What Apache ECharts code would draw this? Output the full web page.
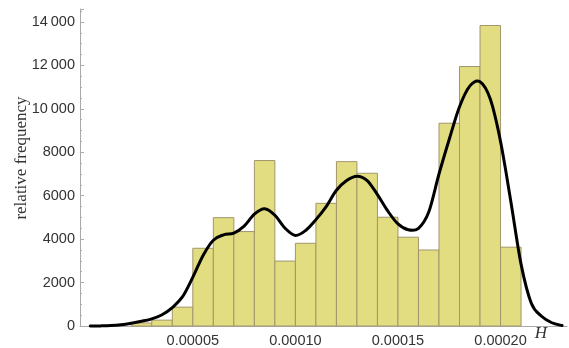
<!DOCTYPE html>
<html>
<head>
<meta charset="utf-8">
<script src="https://cdn.jsdelivr.net/npm/echarts@6/dist/echarts.min.js"></script>
<style>
  html, body { margin: 0; padding: 0; background: #fff; }
  #chart { width: 569px; height: 348px; }
</style>
</head>
<body>
<div id="chart"></div>
<script>
// Histogram bins: left edge of each bin (H) and its relative frequency
const binLeft = [0.00002, 0.00003, 0.00004, 0.00005, 0.00006, 0.00007, 0.00008,
  0.00009, 0.00010, 0.00011, 0.00012, 0.00013, 0.00014, 0.00015, 0.00016,
  0.00017, 0.00018, 0.00019, 0.00020];
const binWidth = 0.00001;
const binFreq = [140, 270, 870, 3580, 4990, 4350, 7620, 2990, 3810, 5650, 7570,
  7035, 5010, 4090, 3500, 9340, 11950, 13840, 3630];

// Smoothed density curve, sampled along H
const curveH = [0, 0.000005, 0.00001, 0.000015, 0.00002, 0.000025, 0.00003, 0.000035,
  0.00004, 0.000045, 0.00005, 0.000055, 0.00006, 0.000065, 0.00007, 0.000075,
  0.00008, 0.000085, 0.00009, 0.000095, 0.00010, 0.000105, 0.00011, 0.000115,
  0.00012, 0.000125, 0.00013, 0.000135, 0.00014, 0.000145, 0.00015, 0.000155,
  0.00016, 0.000165, 0.00017, 0.000175, 0.00018, 0.000185, 0.00019,
  0.000195, 0.00020, 0.000205, 0.00021, 0.000215, 0.00022, 0.000225, 0.00023];
const curveFreq = [0, 5, 20, 60, 130, 220, 330, 520, 850, 1350, 2250, 3250, 3950,
  4200, 4280, 4600, 5150, 5400, 5100, 4500, 4170, 4400, 4900, 5500, 6250, 6700,
  6900, 6700, 6050, 5300, 4700, 4430, 4500, 5250, 7000, 8600, 10100, 11050, 11250,
  10450, 8500, 5750, 2850, 1050, 450, 150, 20];

// Axis ticks
const xTickLabels = [0.00005, 0.00010, 0.00015, 0.00020];
const yTickLabels = [0, 2000, 4000, 6000, 8000, 10000, 12000, 14000];

const bars = binLeft.map((l, i) => [l, l + binWidth, binFreq[i]]);
const curve = curveH.map((h, i) => [h, curveFreq[i]]);

const labelFont = 'Liberation Sans, Arial, sans-serif';
const serifFont = 'Liberation Serif, Times New Roman, serif';

function groupDigits(v) {
  const s = String(v);
  return s.length > 4 ? s.slice(0, s.length - 3) + '\u2009' + s.slice(-3) : s;
}

// Catmull-Rom spline through projected points, as an SVG path string
function splinePath(pts) {
  let d = 'M' + pts[0][0] + ' ' + pts[0][1];
  for (let i = 0; i < pts.length - 1; i++) {
    const p0 = pts[Math.max(i - 1, 0)];
    const p1 = pts[i];
    const p2 = pts[i + 1];
    const p3 = pts[Math.min(i + 2, pts.length - 1)];
    const c1x = p1[0] + (p2[0] - p0[0]) / 6;
    const c1y = p1[1] + (p2[1] - p0[1]) / 6;
    const c2x = p2[0] - (p3[0] - p1[0]) / 6;
    const c2y = p2[1] - (p3[1] - p1[1]) / 6;
    d += ' C' + c1x + ' ' + c1y + ' ' + c2x + ' ' + c2y + ' ' + p2[0] + ' ' + p2[1];
  }
  return d;
}

const chart = echarts.init(document.getElementById('chart'), null, { renderer: 'canvas' });
chart.setOption({
  animation: false,
  grid: { left: 80, right: 2, top: 9, bottom: 22, containLabel: false },
  xAxis: {
    type: 'value',
    min: -0.000005,
    max: 0.0002324,
    interval: 0.000005,
    axisLine: { show: true, onZero: false, lineStyle: { color: '#aaaaaa', width: 1 } },
    axisTick: { show: false },
    splitLine: { show: false },
    axisLabel: {
      margin: 7,
      color: '#333',
      fontFamily: labelFont,
      fontSize: 14.5,
      showMinLabel: false,
      showMaxLabel: false,
      formatter: function (v) {
        const hit = xTickLabels.find(t => Math.abs(t - v) < 1e-9);
        return hit !== undefined ? hit.toFixed(5) : '';
      }
    }
  },
  yAxis: {
    type: 'value',
    min: 0,
    max: 14600,
    interval: 2000,
    axisLine: { show: true, onZero: false, lineStyle: { color: '#aaaaaa', width: 1 } },
    axisTick: { show: true, inside: true, length: 4, lineStyle: { color: '#aaaaaa' } },
    minorTick: { show: true, splitNumber: 4, length: 2, lineStyle: { color: '#aaaaaa' } },
    splitLine: { show: false },
    axisLabel: {
      margin: 5,
      color: '#333',
      fontFamily: labelFont,
      fontSize: 14.5,
      showMaxLabel: false,
      formatter: function (v) {
        const hit = yTickLabels.find(t => Math.abs(t - v) < 1e-6);
        return hit !== undefined ? groupDigits(hit) : '';
      }
    }
  },
  series: [
    {
      type: 'custom',
      data: bars,
      encode: { x: [0, 1], y: 2 },
      renderItem: function (params, api) {
        const p0 = api.coord([api.value(0), api.value(2)]);
        const p1 = api.coord([api.value(1), 0]);
        return {
          type: 'rect',
          shape: { x: p0[0], y: p0[1], width: p1[0] - p0[0], height: p1[1] - p0[1] },
          style: { fill: '#e1dd80', stroke: '#a3966c', lineWidth: 1 }
        };
      },
      z: 1
    },
    {
      // density curve: one smooth path through all samples
      type: 'custom',
      data: curve,
      encode: { x: 0, y: 1 },
      renderItem: function (params, api) {
        if (params.dataIndex !== 0) return null;
        const pts = curve.map(p => api.coord(p));
        return {
          type: 'path',
          shape: { pathData: splinePath(pts) },
          style: { fill: null, stroke: '#000', lineWidth: 3, lineJoin: 'round', lineCap: 'round' }
        };
      },
      z: 2
    }
  ],
  graphic: [
    {
      type: 'text',
      x: 22,
      y: 158,
      rotation: Math.PI / 2,
      style: {
        text: 'relative frequency',
        font: '17px ' + serifFont,
        fill: '#333',
        align: 'center',
        verticalAlign: 'middle'
      }
    },
    {
      type: 'text',
      x: 541,
      y: 334,
      style: {
        text: 'H',
        font: 'italic 17px ' + serifFont,
        fill: '#333',
        align: 'center',
        verticalAlign: 'middle'
      }
    }
  ]
});
</script>
</body>
</html>
